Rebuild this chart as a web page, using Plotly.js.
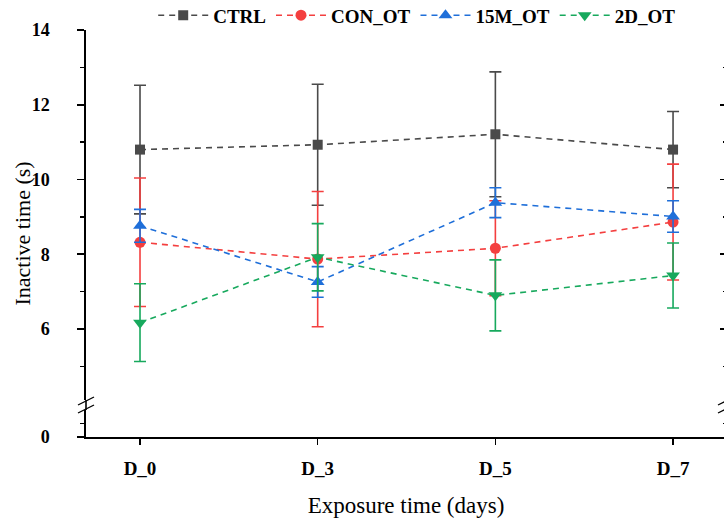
<!DOCTYPE html>
<html>
<head>
<meta charset="utf-8">
<script src="https://cdn.plot.ly/plotly-3.0.1.min.js"></script>
<style>html,body{margin:0;padding:0;background:#fff;overflow:hidden;}#chart{width:730px;height:519px;}</style>
</head>
<body>
<div id="chart"></div>
<script>
// ---- data ----
const days = ['D_0', 'D_3', 'D_5', 'D_7'];
const seriesNames = ['CTRL', 'CON_OT', '15M_OT', '2D_OT'];
const ctrlMean  = [10.80, 10.93, 11.21, 10.80];
const ctrlErr   = [1.72, 1.62, 1.67, 1.02];
const conMean   = [8.32, 7.87, 8.16, 8.86];
const conErr    = [1.72, 1.81, 1.27, 1.55];
const m15Mean   = [8.76, 7.26, 9.38, 9.01];
const m15Err    = [0.44, 0.41, 0.40, 0.42];
const d2Mean    = [6.17, 7.92, 6.90, 7.43];
const d2Err     = [1.04, 0.90, 0.95, 0.87];
const upperTicks = [6, 8, 10, 12, 14];
const lowerTicks = [0];

// ---- styles ----
const colors = ['#4a4a4a', '#f43f3f', '#1f6fd9', '#17a95d'];
const symbols = ['square', 'circle', 'triangle-up', 'triangle-down'];
const msizes = [10, 11, 12, 12];
const means = [ctrlMean, conMean, m15Mean, d2Mean];
const errs = [ctrlErr, conErr, m15Err, d2Err];
const serif = 'Liberation Serif, Times New Roman, serif';

const traces = seriesNames.map((name, i) => ({
  type: 'scatter',
  mode: 'lines+markers',
  name: name,
  x: days,
  y: means[i],
  xaxis: 'x',
  yaxis: 'y2',
  line: {color: colors[i], width: 1.6, dash: '6px,5px'},
  marker: {symbol: symbols[i], size: msizes[i], color: colors[i]},
  error_y: {type: 'data', array: errs[i], visible: true, color: colors[i], thickness: 1.6, width: 6}
}));
// empty traces so that the broken-axis segments and right-hand axes are created
['y', 'y3', 'y4'].forEach(ya => traces.push({type: 'scatter', mode: 'markers', x: [], y: [],
  xaxis: 'x', yaxis: ya, showlegend: false, hoverinfo: 'skip'}));

const yTickFont = {family: serif, size: 18, color: '#000', weight: 'bold'};
const xTickFont = {family: serif, size: 19, color: '#000', weight: 'bold'};
const lowerTop = 27 / 407;
const upperBot = 37 / 407;

const slash = (xp, dy) => ({
  type: 'line', xref: 'paper', yref: 'paper',
  xsizemode: 'pixel', ysizemode: 'pixel',
  xanchor: xp, yanchor: (lowerTop + upperBot) / 2,
  x0: -8, x1: 8, y0: dy - 4, y1: dy + 4,
  line: {color: '#000', width: 1.3}
});

const axBase = {showgrid: false, zeroline: false, linecolor: '#000', linewidth: 1.6,
  tickwidth: 1.6, tickcolor: '#000'};

const layout = {
  width: 730, height: 519,
  margin: {l: 86, r: 4, t: 30, b: 82, autoexpand: false},
  paper_bgcolor: '#fff', plot_bgcolor: '#fff',
  showlegend: true,
  legend: {
    orientation: 'h', x: 0.105, xanchor: 'left', y: 1.036, yanchor: 'middle',
    font: {family: serif, size: 19, color: '#000', weight: 'bold'},
    bgcolor: 'rgba(0,0,0,0)', itemwidth: 50, traceorder: 'normal'
  },
  xaxis: Object.assign({}, axBase, {
    type: 'category', categoryorder: 'array', categoryarray: days,
    range: [-0.304, 3.298], anchor: 'y',
    showline: true, ticks: 'outside', ticklen: 6,
    tickfont: xTickFont, ticklabelstandoff: 8,
    title: {text: 'Exposure time (days)', font: {family: serif, size: 23, color: '#000'}, standoff: 18}
  }),
  yaxis: Object.assign({}, axBase, {
    domain: [0, lowerTop], range: [0, 1], anchor: 'x',
    tickmode: 'array', tickvals: lowerTicks, ticktext: lowerTicks.map(String),
    showline: true, ticks: 'outside', ticklen: 7,
    minor: {tickmode: 'array', tickvals: [0.5], ticks: 'outside', ticklen: 4, tickwidth: 1.6, tickcolor: '#000'},
    tickfont: yTickFont, ticklabelstandoff: 24
  }),
  yaxis2: Object.assign({}, axBase, {
    domain: [upperBot, 1], range: [4.1, 14], anchor: 'x',
    tickmode: 'array', tickvals: upperTicks, ticktext: upperTicks.map(String),
    showline: true, ticks: 'outside', ticklen: 7,
    minor: {dtick: 1, tick0: 0, ticks: 'outside', ticklen: 4, tickwidth: 1.6, tickcolor: '#000'},
    tickfont: yTickFont, ticklabelstandoff: 24
  }),
  yaxis3: Object.assign({}, axBase, {
    overlaying: 'y2', side: 'right', anchor: 'x', range: [4.1, 14],
    tickmode: 'array', tickvals: upperTicks, showticklabels: false,
    showline: true, ticks: 'inside', ticklen: 6,
    minor: {dtick: 1, tick0: 0, ticks: 'inside', ticklen: 3, tickwidth: 1.6, tickcolor: '#000'}
  }),
  yaxis4: Object.assign({}, axBase, {
    overlaying: 'y', side: 'right', anchor: 'x', range: [0, 1],
    tickmode: 'array', tickvals: lowerTicks, showticklabels: false,
    showline: true, ticks: 'inside', ticklen: 6,
    minor: {tickmode: 'array', tickvals: [0.5], ticks: 'inside', ticklen: 3, tickwidth: 1.6, tickcolor: '#000'}
  }),
  shapes: [
    {type: 'line', xref: 'paper', yref: 'paper', x0: 0, x1: 0, y0: lowerTop, y1: upperBot, line: {color: '#000', width: 1.6}},
    slash(0, 4), slash(0, -4), slash(1, 4), slash(1, -4)
  ],
  annotations: [{
    text: 'Inactive time (s)', xref: 'paper', yref: 'paper',
    x: -64 / 640, y: 0.5, xanchor: 'center', yanchor: 'middle',
    textangle: -90, showarrow: false,
    font: {family: serif, size: 22, color: '#000'}
  }]
};

Plotly.newPlot('chart', traces, layout, {displayModeBar: false, staticPlot: true});
</script>
</body>
</html>
